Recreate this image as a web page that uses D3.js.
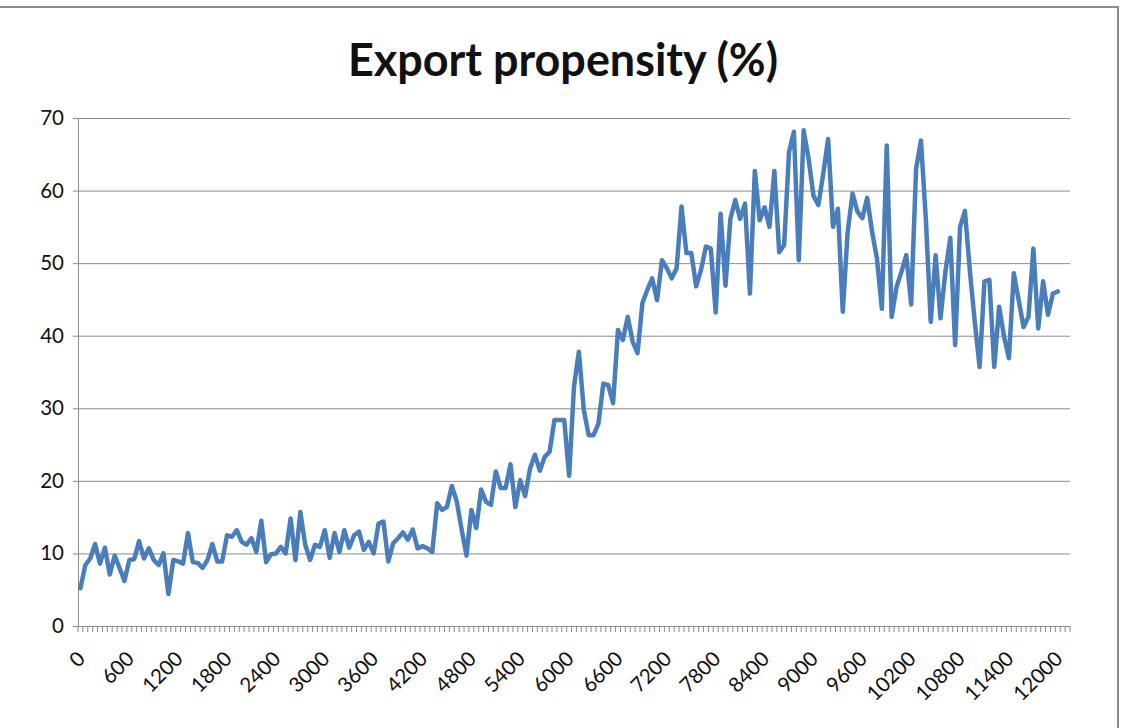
<!DOCTYPE html>
<html>
  <head>
    <meta charset="utf-8">
    <title>Export propensity (%)</title>
    <script src="https://d3js.org/d3.v7.min.js"></script>
    <style>
      body { margin: 0; background: #fff; }
      svg text { font-family: Lato, "Open Sans", sans-serif; fill: #111; }
      .grid line { stroke: #8c8c8c; stroke-width: 1px; }
      .grid path { stroke: none; }
      .axis path, .axis line { stroke: #8c8c8c; stroke-width: 1px; }
      .line { fill: none; stroke: #4a7ebb; stroke-width: 4.5px; stroke-linejoin: round; stroke-linecap: round; }
    </style>
  </head>
  <body>
<script>

// categories on the x axis (firm size), last two have no data
var categories = d3.range(0, 12121, 60);
var tickLabels = [0, 600, 1200, 1800, 2400, 3000, 3600, 4200, 4800, 5400, 6000,
                  6600, 7200, 7800, 8400, 9000, 9600, 10200, 10800, 11400, 12000];
var yTicks = [0, 10, 20, 30, 40, 50, 60, 70];

// export propensity, one value per category from 0 to 12000
var propensity = [
  5.2, 8.4, 9.3, 11.3, 8.6, 10.8, 7.1, 9.7, 8.0, 6.2,
  9.1, 9.2, 11.7, 9.3, 10.7, 9.1, 8.4, 10.0, 4.4, 9.1,
  8.9, 8.6, 12.8, 8.8, 8.7, 8.0, 9.1, 11.3, 8.9, 8.9,
  12.5, 12.3, 13.2, 11.6, 11.2, 12.1, 10.2, 14.5, 8.8, 9.9,
  10.0, 10.9, 10.0, 14.8, 9.1, 15.7, 11.2, 9.1, 11.2, 10.9,
  13.2, 9.4, 12.8, 10.2, 13.2, 10.8, 12.5, 13.0, 10.5, 11.6,
  10.0, 14.1, 14.4, 8.9, 11.4, 12.1, 12.9, 11.9, 13.3, 10.7,
  11.0, 10.7, 10.2, 16.9, 16.0, 16.4, 19.3, 17.2, 13.3, 9.7,
  16.0, 13.5, 18.8, 17.1, 16.7, 21.3, 19.0, 19.0, 22.3, 16.4,
  20.1, 17.9, 21.7, 23.6, 21.4, 23.3, 24.0, 28.4, 28.4, 28.4,
  20.7, 33.0, 37.8, 29.8, 26.3, 26.3, 27.9, 33.4, 33.2, 30.7,
  40.8, 39.4, 42.6, 39.2, 37.6, 44.5, 46.3, 47.9, 44.9, 50.4,
  49.3, 47.9, 49.3, 57.8, 51.4, 51.4, 46.8, 49.1, 52.3, 52.0,
  43.2, 56.8, 46.9, 56.1, 58.7, 56.1, 58.2, 45.8, 62.7, 55.9,
  57.7, 55.0, 62.7, 51.5, 52.5, 65.3, 68.1, 50.4, 68.3, 64.4,
  59.3, 58.0, 62.3, 67.1, 55.0, 57.5, 43.3, 54.3, 59.6, 57.1,
  56.2, 59.0, 54.3, 50.6, 43.7, 66.2, 42.6, 46.7, 48.8, 51.1,
  44.3, 63.0, 66.9, 56.1, 41.9, 51.1, 42.4, 48.8, 53.5, 38.7,
  55.0, 57.2, 49.0, 42.0, 35.7, 47.5, 47.7, 35.7, 44.0, 39.9,
  36.9, 48.6, 44.9, 41.2, 42.6, 52.0, 41.0, 47.5, 42.9, 45.8,
  46.1
];

var W = 1125, H = 728;
var margin = {top: 118, right: 55, bottom: 102, left: 78},
    width = W - margin.left - margin.right,
    height = H - margin.top - margin.bottom;

var svg = d3.select("body").append("svg")
    .attr("width", W)
    .attr("height", H);

// chart area border
svg.append("rect")
    .attr("x", -2).attr("y", 7)
    .attr("width", 1120).attr("height", 740)
    .attr("fill", "none")
    .attr("stroke", "#8c8c8c")
    .attr("stroke-width", 2);

// title, sized to the reference width
var title = svg.append("text")
    .attr("x", 563)
    .attr("y", 76)
    .attr("text-anchor", "middle")
    .style("font-weight", "bold")
    .style("font-size", "40px")
    .text("Export propensity (%)");
var tw = title.node().getComputedTextLength();
title.style("font-size", (40 * 430 / tw) + "px");

var g = svg.append("g")
    .attr("transform", "translate(" + margin.left + "," + margin.top + ")");

var x = d3.scaleBand().domain(categories).range([0, width]).padding(0);
var y = d3.scaleLinear().domain([0, 70]).range([height, 0]);
var bw = x.bandwidth();

// horizontal gridlines
g.append("g")
    .attr("class", "grid")
    .call(d3.axisLeft(y).tickValues(yTicks).tickSize(-width).tickFormat(""));

// y axis
var yAxis = g.append("g")
    .attr("class", "axis")
    .call(d3.axisLeft(y).tickValues(yTicks).tickSize(5).tickSizeOuter(0).tickPadding(9));
yAxis.selectAll("text").style("font-size", "20.5px");

// x axis: tick marks between categories, labels every 600
var xAxis = g.append("g")
    .attr("class", "axis")
    .attr("transform", "translate(0," + height + ")")
    .call(d3.axisBottom(x)
      .tickValues(categories)
      .tickSize(6)
      .tickSizeOuter(0)
      .tickFormat(function(d) { return tickLabels.indexOf(d) >= 0 ? d : ""; }));
xAxis.selectAll(".tick line").attr("transform", "translate(" + (-bw / 2) + ",0)");
xAxis.append("line")
    .attr("x1", width).attr("x2", width)
    .attr("y1", 0).attr("y2", 6)
    .attr("stroke", "#8c8c8c");
xAxis.selectAll(".tick text")
    .attr("y", 0)
    .attr("dy", "0.35em")
    .attr("text-anchor", "end")
    .attr("transform", "translate(1,29) rotate(-45)")
    .style("font-size", "20.5px");

// the series
var line = d3.line()
    .x(function(d, i) { return x(categories[i]) + bw / 2; })
    .y(function(d) { return y(d); });

g.append("path")
    .datum(propensity)
    .attr("class", "line")
    .attr("d", line);

</script>
</body>
</html>
